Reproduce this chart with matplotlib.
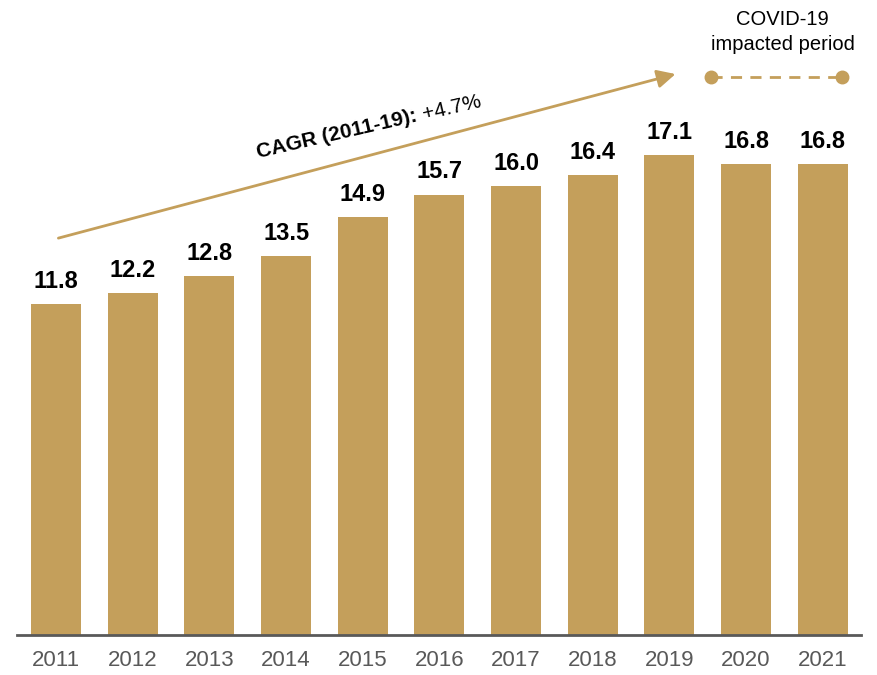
import numpy as np
import matplotlib
matplotlib.use("Agg")
import matplotlib.pyplot as plt

plt.rcParams['font.family'] = ['Liberation Sans', 'DejaVu Sans']

years = ["2011", "2012", "2013", "2014", "2015", "2016", "2017", "2018", "2019", "2020", "2021"]
values = [11.8, 12.2, 12.8, 13.5, 14.9, 15.7, 16.0, 16.4, 17.1, 16.8, 16.8]

gold = '#C49F5B'

fig = plt.figure(figsize=(8.78, 6.75), dpi=100)
ax = fig.add_axes([17 / 878, 1 - 635 / 675, (861 - 17) / 878, 635 / 675])

x = np.arange(len(years))
bars = ax.bar(x, values, width=0.65, color=gold, zorder=2)

for xi, v in zip(x, values):
    ax.text(xi, v + 0.4, f"{v:.1f}", ha='center', va='bottom',
            fontsize=17, fontweight='bold', color='black')

ax.set_xlim(-0.51, 10.5)
ax.set_ylim(0, 22.64)
ax.set_xticks(x)
ax.set_xticklabels(years, fontsize=16, color='#595959')
ax.tick_params(axis='x', length=0, pad=11)
ax.set_yticks([])
for side in ['top', 'right', 'left']:
    ax.spines[side].set_visible(False)
ax.spines['bottom'].set_color('#595959')
ax.spines['bottom'].set_linewidth(2)

# CAGR trend arrow (2011-19)
ax.annotate('', xy=(8.08, 20.0), xytext=(0.03, 14.15),
            arrowprops=dict(arrowstyle='-|>,head_length=1.1,head_width=0.55',
                            color=gold, lw=2, shrinkA=0, shrinkB=0))

# label: bold part, then the rate in regular weight on the same rotated baseline
angle = 13
fs = 15
start = ax.transData.inverted().transform((258, 675 - 158))
ax.text(start[0], start[1], "CAGR (2011-19): ", rotation=angle,
        rotation_mode='anchor', ha='left', va='baseline',
        fontsize=fs, fontweight='bold')
renderer = fig.canvas.get_renderer()
probe = ax.text(0, 0, "CAGR (2011-19): ", fontsize=fs, fontweight='bold')
w = probe.get_window_extent(renderer).width
probe.remove()
x0, y0 = ax.transData.transform(start)
rad = np.deg2rad(angle)
nxt = ax.transData.inverted().transform((x0 + w * np.cos(rad), y0 + w * np.sin(rad)))
ax.text(nxt[0], nxt[1], "+4.7%", rotation=angle, rotation_mode='anchor',
        ha='left', va='baseline', fontsize=fs)

# COVID-19 marker
ax.plot([8.54, 10.25], [19.9, 19.9], color=gold, lw=2, ls=(0, (4, 3)),
        marker='o', markersize=9, clip_on=False)
ax.text(9.48, 21.5, "COVID-19\nimpacted period", ha='center', va='center',
        fontsize=14.5, linespacing=1.45)

fig.savefig("out.png", dpi=100)
